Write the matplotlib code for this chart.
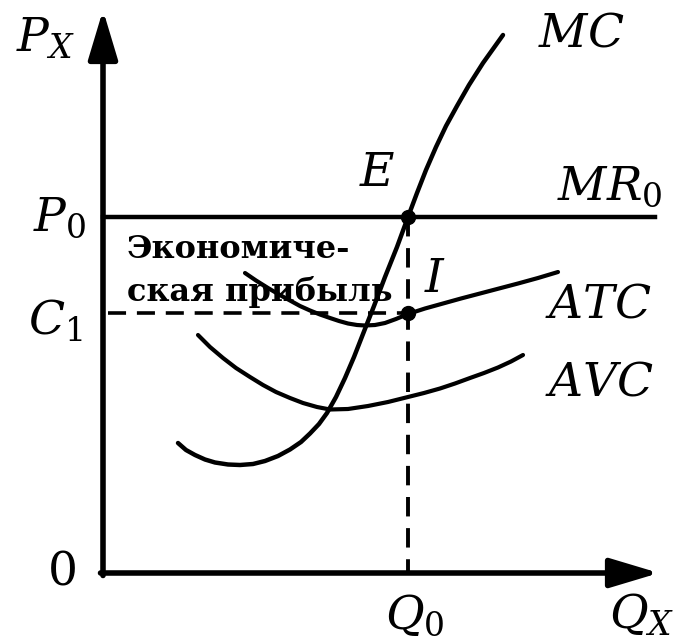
import matplotlib.pyplot as plt
import numpy as np

plt.rcParams['mathtext.fontset'] = 'dejavuserif'

# ---- curve data (Q, P) in chart units ----
mc_q = [1.50, 1.66, 1.84, 2.04, 2.24, 2.50, 2.74, 3.00, 3.24, 3.50, 3.74, 3.96, 4.14, 4.32, 4.48,
        4.66, 4.84, 5.02, 5.20, 5.42, 5.64, 5.88, 6.10, 6.28, 6.46, 6.66, 6.86, 7.08, 7.32, 7.60, 8.00]
mc_p = [2.60, 2.46, 2.36, 2.27, 2.21, 2.17, 2.16, 2.18, 2.24, 2.34, 2.47, 2.62, 2.79, 2.98, 3.20,
        3.52, 3.90, 4.32, 4.78, 5.34, 5.92, 6.52, 7.12, 7.60, 8.06, 8.52, 8.94, 9.34, 9.76, 10.20, 10.76]

avc_q = [1.90, 2.14, 2.40, 2.66, 2.94, 3.20, 3.46, 3.74, 4.00, 4.28, 4.54, 4.90, 5.30, 5.70,
         6.10, 6.42, 6.74, 7.04, 7.34, 7.62, 7.90, 8.16, 8.40]
avc_p = [4.76, 4.52, 4.30, 4.10, 3.92, 3.76, 3.62, 3.50, 3.40, 3.32, 3.27, 3.28, 3.34, 3.42,
         3.52, 3.60, 3.69, 3.79, 3.90, 4.00, 4.11, 4.23, 4.36]

atc_q = [2.84, 3.06, 3.30, 3.52, 3.74, 3.94, 4.14, 4.34, 4.54, 4.72, 4.90, 5.08, 5.24, 5.44,
         5.64, 5.86, 6.10, 6.44, 6.80, 7.16, 7.54, 7.92, 8.30, 8.70, 9.10]
atc_p = [6.00, 5.85, 5.70, 5.57, 5.45, 5.34, 5.25, 5.17, 5.10, 5.04, 4.99, 4.96, 4.95, 4.96,
         5.00, 5.08, 5.18, 5.29, 5.39, 5.49, 5.59, 5.69, 5.79, 5.90, 6.02]

q0 = 6.10
p0 = 7.12
c1 = 5.20

fig = plt.figure(figsize=(6.77, 6.38), dpi=100)
ax = fig.add_axes([0, 0, 1, 1])
ax.set_xlim(-2.06, 11.48)
ax.set_ylim(-1.30, 11.46)
ax.axis('off')

# axes with arrows
arr = dict(arrowstyle='-|>,head_length=3.0,head_width=0.9', lw=4, mutation_scale=10,
           color='black', shrinkA=0, shrinkB=0)
ax.annotate('', xy=(0, 11.26), xytext=(0, -0.05), arrowprops=arr)
ax.annotate('', xy=(11.12, 0), xytext=(-0.05, 0), arrowprops=arr)

# MR0 line, dashed guides
ax.plot([0, 11.04], [p0, p0], color='black', lw=3.2)
ax.plot([0.1, q0], [c1, c1], color='black', lw=2.6, ls=(0, (5, 3)))
ax.plot([q0, q0], [p0, 0], color='black', lw=2.8, ls=(0, (5, 3)))

# cost curves
ax.plot(mc_q, mc_p, color='black', lw=3.2, solid_capstyle='round', solid_joinstyle='round')
ax.plot(avc_q, avc_p, color='black', lw=3.0, solid_capstyle='round', solid_joinstyle='round')
ax.plot(atc_q, atc_p, color='black', lw=3.0, solid_capstyle='round', solid_joinstyle='round')

# points E and I
ax.plot([q0, q0], [p0, c1], 'o', color='black', ms=10)

lab = dict(fontsize=34, ha='center', va='center', color='black')
ax.text(-1.14, 10.68, '$P_X$', **lab)
ax.text(-0.86, 7.10, '$P_0$', **lab)
ax.text(-0.96, 5.02, '$C_1$', **lab)
ax.text(-0.84, 0.02, '$0$', **lab)
ax.text(6.24, -0.86, '$Q_0$', **lab)
ax.text(10.78, -0.86, '$Q_X$', **lab)
ax.text(9.56, 10.78, '$MC$', **lab)
ax.text(5.48, 8.00, '$E$', **lab)
ax.text(10.14, 7.72, '$MR_0$', **lab)
ax.text(6.64, 5.86, '$I$', **lab)
ax.text(9.90, 5.36, '$ATC$', **lab)
ax.text(9.94, 3.80, '$AVC$', **lab)

ax.text(0.48, 6.48, 'Экономиче-', fontsize=23, fontweight='bold', family='DejaVu Serif',
        ha='left', va='center')
ax.text(0.48, 5.62, 'ская прибыль', fontsize=23, fontweight='bold', family='DejaVu Serif',
        ha='left', va='center')

plt.savefig('out.png', dpi=100)
